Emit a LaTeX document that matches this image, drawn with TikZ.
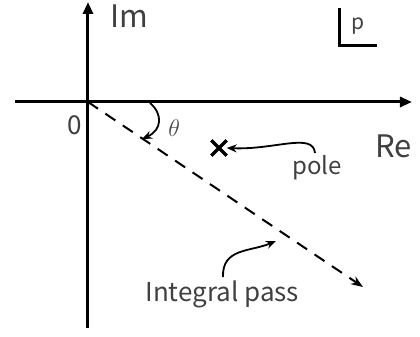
\documentclass[tikz,border=0pt]{standalone}
\usepackage{fontspec}
\setmainfont{Noto Sans CJK JP}
\usepackage{tikz}
\usetikzlibrary{arrows.meta, shapes.misc}
\tikzset{
  axisline/.style = {line width=1.5pt, -{Triangle[length=6pt, width=5pt]}},
  pathline/.style = {line width=1pt, dash pattern=on 6pt off 4.5pt,
                     -{Stealth[length=6pt, width=4.5pt]}},
  ptr/.style      = {line width=0.9pt, -{Stealth[length=5pt, width=4pt]}},
  lbl/.style      = {inner sep=0pt, anchor=base west, text=black!75},
  polemark/.style = {cross out, draw, line width=1.7pt, minimum size=6pt,
                     inner sep=0pt},
}
\begin{document}
\begin{tikzpicture}[x=0.5pt, y=0.5pt]
  \useasboundingbox (0,0) rectangle (420,-337);
  % axes
  \coordinate (O)    at (88,-102);
  \coordinate (imlo) at (88,-328);
  \coordinate (imhi) at (88,-2);
  \coordinate (relo) at (15,-102);
  \coordinate (rehi) at (412,-102);
  \draw[axisline] (imlo) -- (imhi);
  \draw[axisline] (relo) -- (rehi);

  % integral path
  \coordinate (pathend) at (363,-287);
  \draw[pathline] (O) -- (pathend);

  % labels
  \node[lbl, font=\fontsize{15.5}{15}\selectfont] (im) at (110,-27) {Im};
  \node[lbl, font=\fontsize{15.5}{15}\selectfont] (re) at (375,-158) {Re};
  \node[lbl, font=\fontsize{13}{13}\selectfont] (zero) at (67,-135) {0};
  \node[lbl, font=\fontsize{13}{13}\selectfont, text=black!70] (theta)
    at (168,-137) {$\theta$};

  % angle pointer
  \coordinate (thstart) at (150,-103);
  \coordinate (thend)   at (142,-139);
  \draw[ptr] (thstart) .. controls (163,-114) and (162,-130) .. (thend);

  % pole
  \node[polemark] (pole) at (219,-148) {};
  \node[lbl, font=\fontsize{12}{12}\selectfont] (polelbl)
    at (292,-175) {pole};
  \coordinate (polefrom) at (315,-153);
  \draw[ptr] (polefrom) .. controls (313,-132) and (275,-150) .. (pole.east);

  % path label
  \node[lbl, font=\fontsize{13}{13}\selectfont] (pathlbl)
    at (145,-302) {Integral pass};
  \coordinate (pathfrom) at (223,-277);
  \coordinate (pathto)   at (276,-241);
  \draw[ptr] (pathfrom) .. controls (222,-248) and (250,-252) .. (pathto);

  % variable box
  \coordinate (ptop)  at (340,-8);
  \coordinate (pcorn) at (340,-46);
  \coordinate (pend)  at (377,-46);
  \draw[line width=1.5pt] (ptop) -- (pcorn) -- (pend);
  \node[lbl, font=\fontsize{10.5}{10}\selectfont] (plbl) at (351,-30) {p};
\end{tikzpicture}
\end{document}
